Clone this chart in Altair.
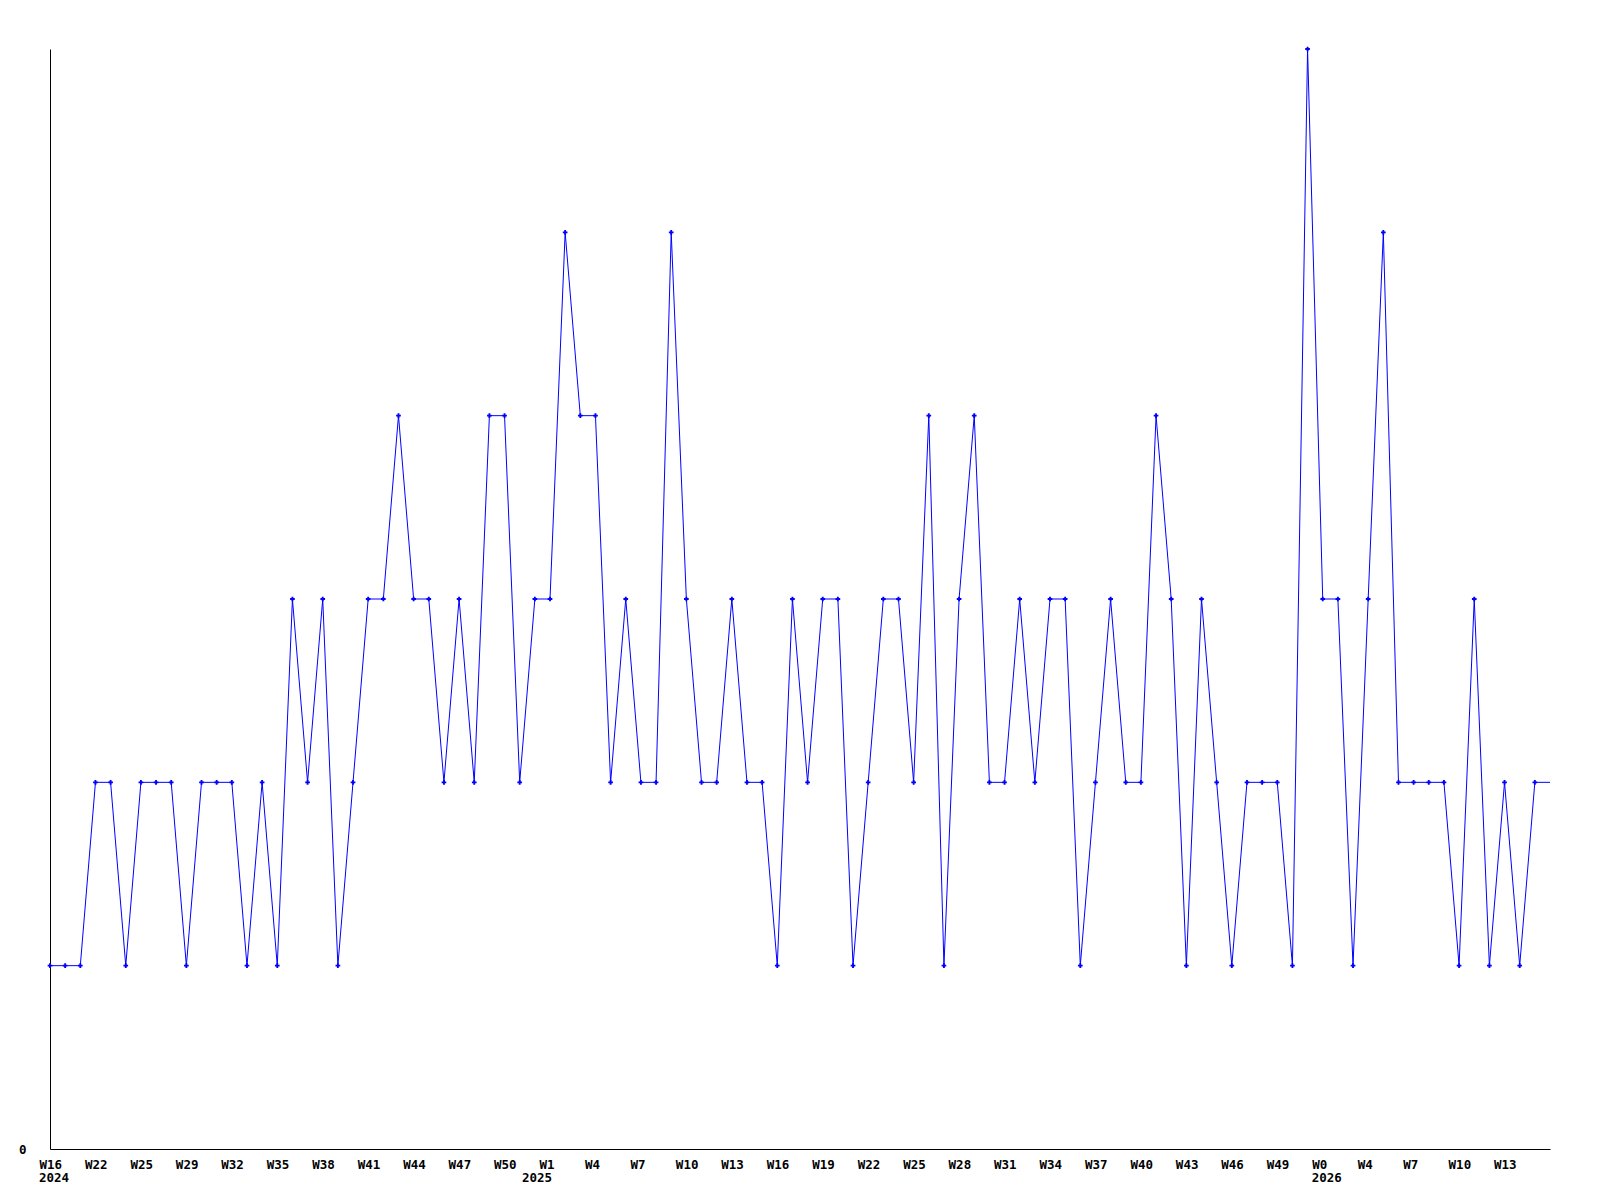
import altair as alt
import pandas as pd

# Weekly values (one per week, in order)
values = [1,1,1,2,2,1,2,2,2,1, 2,2,2,1,2,1,3,2,3,1,
          2,3,3,4,3,3,2,3,2,4, 4,2,3,3,5,4,4,2,3,2,
          2,5,3,2,2,3,2,2,1,3, 2,3,3,1,2,3,3,2,4,1,
          3,4,2,2,3,2,3,3,1,2, 3,2,2,4,3,1,3,2,1,2,
          2,2,1,6,3,3,1,3,5,2, 2,2,2,1,3,1,2,1,2,2]

# Tick labels shown on the x axis (every third week)
week_labels = ["W16","W22","W25","W29","W32","W35","W38","W41","W44","W47","W50",
               "W1","W4","W7","W10","W13","W16","W19","W22","W25","W28","W31",
               "W34","W37","W40","W43","W46","W49","W0","W4","W7","W10","W13"]
label_idx = [3 * i for i in range(len(week_labels))]

years = ["2024", "2025", "2026"]
year_idx = [0, 33, 84]

n = len(values)
df = pd.DataFrame({"idx": list(range(n)), "val": values,
                   "marker": [i < n - 1 for i in range(n)]})

lab_arr = [""] * n
for i, l in zip(label_idx, week_labels):
    lab_arr[i] = l
label_expr = "[" + ",".join("'" + s + "'" for s in lab_arr) + "][datum.value]"

W, H = 1500, 1100
FONT = "DejaVu Sans Mono"
FS = 12.5

x_enc = alt.X("idx:Q",
              scale=alt.Scale(domain=[0, n - 1], nice=False, zero=False),
              axis=alt.Axis(values=label_idx, labelExpr=label_expr, ticks=False, grid=False,
                            title=None, labelAlign="left", labelBaseline="top",
                            labelPadding=9, labelOffset=-11, labelFont=FONT,
                            labelFontWeight="bold", labelFontSize=FS, labelColor="black",
                            domainColor="black", domainWidth=1, labelOverlap=False,
                            labelFlush=False, labelBound=False))
y_enc = alt.Y("val:Q",
              scale=alt.Scale(domain=[0, 6], nice=False, zero=True),
              axis=alt.Axis(values=[0], format="d", ticks=False, grid=False, title=None,
                            labelPadding=24, labelFont=FONT, labelFontWeight="bold",
                            labelFontSize=FS, labelColor="black", domainColor="black",
                            domainWidth=1, labelBaseline="middle"))

base = alt.Chart(df)
line = base.mark_line(color="#0000ff", strokeWidth=1).encode(x=x_enc, y=y_enc)
pts = base.transform_filter("datum.marker").mark_point(
    shape="cross", filled=True, color="#0000ff", size=22, opacity=1
).encode(x="idx:Q", y="val:Q")

ydf = pd.DataFrame({"idx": year_idx, "year": years})
yr_main = alt.Chart(ydf).transform_filter("datum.year != '2025'").mark_text(
    align="left", baseline="top", dx=-11, font=FONT, fontWeight="bold", fontSize=FS, color="black"
).encode(x="idx:Q", y=alt.value(H + 23), text="year:N")
yr_mid = alt.Chart(ydf).transform_filter("datum.year == '2025'").mark_text(
    align="left", baseline="top", dx=-28, font=FONT, fontWeight="bold", fontSize=FS, color="black"
).encode(x="idx:Q", y=alt.value(H + 23), text="year:N")

chart = alt.layer(line, pts, yr_main, yr_mid).properties(
    width=W, height=H,
    autosize=alt.AutoSizeParams(type="none"),
    padding={"left": 42, "top": 41, "right": 20, "bottom": 50},
    background="white",
).configure_view(stroke=None)

chart.save("out.html", embed_options={"renderer": "svg", "actions": False})
